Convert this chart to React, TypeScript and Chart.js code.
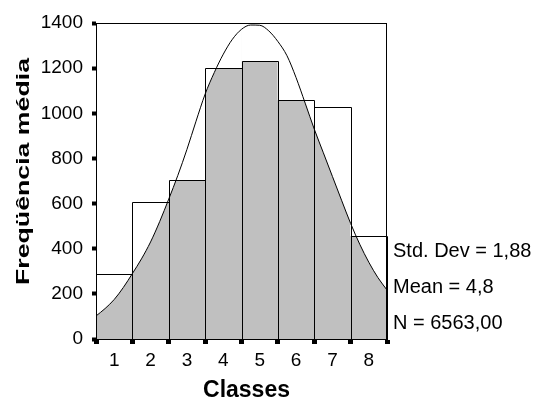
import { useEffect, useRef } from "react";
import { Chart, registerables } from "chart.js";

Chart.register(...registerables);

const CLASSES = [1, 2, 3, 4, 5, 6, 7, 8];
const FREQ = [290, 607, 704, 1200, 1233, 1059, 1029, 458];
const CURVE_X = [
  0.5, 0.75, 1.0, 1.25, 1.5, 1.75, 2.0, 2.25, 2.5, 2.75, 3.0, 3.25, 3.5, 3.75, 4.0, 4.25, 4.5,
  4.75, 5.0, 5.25, 5.5, 5.75, 6.0, 6.25, 6.5, 6.75, 7.0, 7.25, 7.5, 7.75, 8.0, 8.25, 8.5,
];
const CURVE_Y = [
  102, 135, 175, 228, 290, 355, 430, 520, 620, 725, 840, 965, 1085, 1180, 1262, 1328, 1372,
  1391, 1390, 1365, 1318, 1255, 1158, 1045, 930, 825, 720, 615, 512, 420, 340, 272, 217,
];
const Y_TICKS = [0, 200, 400, 600, 800, 1000, 1200, 1400];
const Y_MIN = 0;
const Y_MAX = 1400;
const X_MIN = 0.5;
const X_MAX = 8.5;
const Y_TITLE = "Freqüência média";
const X_TITLE = "Classes";
const STATS = ["Std. Dev = 1,88", "Mean = 4,8", "N = 6563,00"];

const FONT = "'Liberation Sans', Arial, sans-serif";
const OUTLINE_INDEX = 2;

const decorPlugin = {
  id: "decor",
  afterDatasetDraw(chart: any, args: any) {
    if (args.index !== OUTLINE_INDEX) return;
    const { ctx } = chart;
    const meta = chart.getDatasetMeta(OUTLINE_INDEX);
    ctx.save();
    ctx.strokeStyle = "#000";
    ctx.lineWidth = 1;
    ctx.beginPath();
    meta.data.forEach((el: any) => {
      const { x, y, base, width } = el.getProps(["x", "y", "base", "width"], true);
      const l = Math.round(x - width / 2) + 0.5;
      const r = Math.round(x + width / 2) - 0.5;
      const t = Math.round(y) + 0.5;
      const b = Math.round(base) + 0.5;
      ctx.moveTo(l, b);
      ctx.lineTo(l, t);
      ctx.lineTo(r + 1, t);
      ctx.moveTo(r + 1, t);
      ctx.lineTo(r + 1, b);
    });
    ctx.stroke();
    ctx.restore();
  },
  afterDatasetsDraw(chart: any) {
    const { ctx, chartArea } = chart;
    const l = Math.round(chartArea.left) + 0.5;
    const t = Math.round(chartArea.top) + 0.5;
    const r = Math.round(chartArea.right) - 0.5;
    const b = Math.round(chartArea.bottom) + 0.5;
    ctx.save();
    ctx.strokeStyle = "#000";
    ctx.lineWidth = 1;
    ctx.strokeRect(l, t, r - l, b - t);
    ctx.restore();
  },
  afterDraw(chart: any) {
    const { ctx } = chart;
    ctx.save();
    ctx.fillStyle = "#000";
    ctx.font = `20px ${FONT}`;
    ctx.textAlign = "left";
    ctx.textBaseline = "alphabetic";
    const baselines = [256.5, 293, 329];
    STATS.forEach((s, i) => ctx.fillText(s, 393, baselines[i]));
    ctx.font = `bold 23px ${FONT}`;
    ctx.textAlign = "center";
    ctx.fillText(X_TITLE, 246.5, 397);
    ctx.font = `bold 18.5px ${FONT}`;
    const w = ctx.measureText(Y_TITLE).width;
    const sx = 227 / w;
    ctx.translate(28.5, 171.5);
    ctx.rotate(-Math.PI / 2);
    ctx.scale(sx, 1);
    ctx.fillText(Y_TITLE, 0, 0);
    ctx.restore();
  },
};

export default function App() {
  const ref = useRef<HTMLCanvasElement | null>(null);

  useEffect(() => {
    if (!ref.current) return;
    const curve = CURVE_X.map((x, i) => ({ x, y: CURVE_Y[i] }));
    const chart = new Chart(ref.current, {
      type: "bar",
      data: {
        datasets: [
          {
            type: "line",
            data: curve,
            borderWidth: 0,
            borderColor: "rgba(0,0,0,0)",
            backgroundColor: "#c0c0c0",
            fill: "origin",
            pointRadius: 0,
            cubicInterpolationMode: "monotone",
            order: 4,
          } as any,
          {
            type: "bar",
            data: CLASSES.map((c, i) => ({ x: c, y: [FREQ[i], Y_MAX] })),
            backgroundColor: "#ffffff",
            borderWidth: 0,
            grouped: false,
            barPercentage: 1,
            categoryPercentage: 1,
            order: 3,
          } as any,
          {
            type: "bar",
            data: CLASSES.map((c, i) => ({ x: c, y: FREQ[i] })),
            backgroundColor: "rgba(0,0,0,0)",
            borderWidth: 0,
            grouped: false,
            barPercentage: 1,
            categoryPercentage: 1,
            order: 2,
          } as any,
          {
            type: "line",
            data: curve,
            borderWidth: 1,
            borderColor: "#000",
            fill: false,
            pointRadius: 0,
            cubicInterpolationMode: "monotone",
            order: 1,
          } as any,
        ],
      },
      options: {
        animation: false,
        responsive: false,
        devicePixelRatio: 1,
        layout: { padding: { left: 0, right: 151, top: 23, bottom: 0 } },
        plugins: { legend: { display: false }, tooltip: { enabled: false } },
        scales: {
          x: {
            type: "linear",
            min: X_MIN,
            max: X_MAX,
            offset: false,
            afterBuildTicks: (s: any) => {
              s.ticks = CLASSES.map((v) => ({ value: v }));
            },
            afterFit: (s: any) => {
              s.height = 60;
            },
            ticks: {
              color: "#000",
              font: { family: FONT, size: 19 },
              padding: 5,
              maxRotation: 0,
              autoSkip: false,
              callback: (v: any) => String(v),
            },
            grid: {
              drawOnChartArea: false,
              drawTicks: true,
              tickLength: 5,
              tickWidth: 5,
              tickColor: "#000",
            },
            border: { display: true, color: "#000", width: 1 },
          },
          y: {
            type: "linear",
            min: Y_MIN,
            max: Y_MAX,
            afterBuildTicks: (s: any) => {
              s.ticks = Y_TICKS.map((v) => ({ value: v }));
            },
            afterFit: (s: any) => {
              s.width = 96;
            },
            ticks: {
              color: "#000",
              font: { family: FONT, size: 19 },
              padding: 9,
              callback: (v: any) => String(v),
            },
            grid: {
              drawOnChartArea: false,
              drawTicks: true,
              tickLength: 4,
              tickWidth: 4,
              tickColor: "#000",
            },
            border: { display: true, color: "#000", width: 1 },
          },
        },
      } as any,
      plugins: [decorPlugin],
    });
    return () => chart.destroy();
  }, []);

  return (
    <div style={{ position: "absolute", left: 0, top: 0, width: 538, height: 399, background: "#fff" }}>
      <canvas ref={ref} width={538} height={399} style={{ display: "block" }} />
    </div>
  );
}
